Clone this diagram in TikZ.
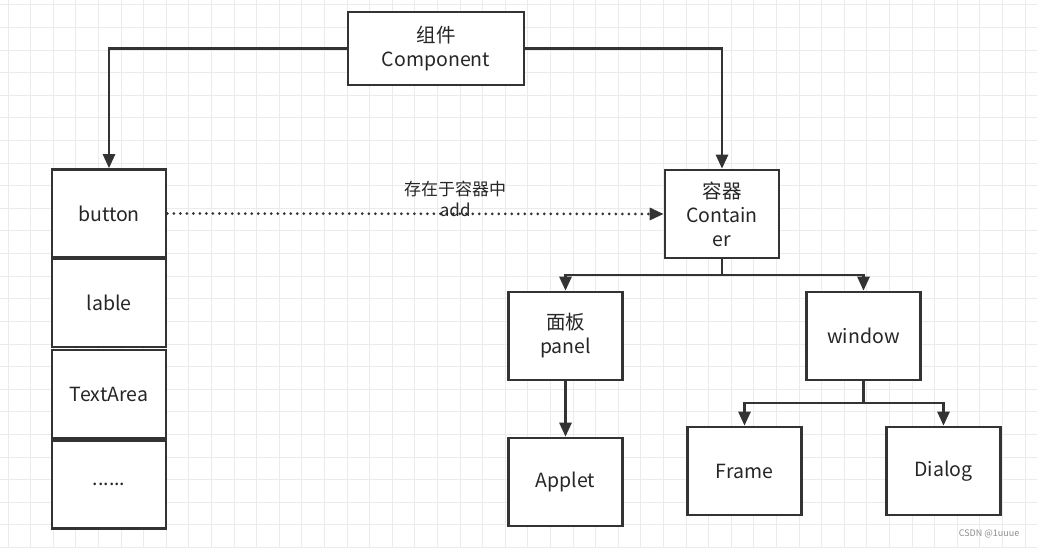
\documentclass[tikz,border=0pt]{standalone}
\usepackage{fontspec}
\setmainfont{Noto Sans CJK SC}
\usetikzlibrary{positioning, arrows.meta}
\tikzset{
    box/.style={draw=black!80, line width=2.6pt, fill=white, minimum width=114pt, minimum height=88pt, align=center, font=\fontsize{19.5}{24}\selectfont, text=black!85},
    link/.style={draw=black!80, line width=2.6pt, -{Triangle[length=14pt,width=12pt]}},
}
\begin{document}
\begin{tikzpicture}[x=1pt, y=-1pt]
    \useasboundingbox (0,0) rectangle (1037,548);
    % grid
    \foreach \i in {0,...,46} \draw[black!8, line width=1pt] (\i*22.6+8,0) -- (\i*22.6+8,548);
    \foreach \j in {0,...,24} \draw[black!8, line width=1pt] (0,\j*22.6+5) -- (1037,\j*22.6+5);

    % nodes
    \node[box, minimum width=176pt, minimum height=73pt] (comp) at (436,48.5) {组件\\Component};
    \node[box] (button) at (109,213.5) {button};
    \node[box] (lable) at (109,303) {lable};
    \node[box] (text) at (109,394) {TextArea};
    \node[box] (dots) at (109,484.5) {......};
    \node[box] (cont) at (722,214) {容器\\Contain\\er};
    \node[box] (panel) at (565.5,336) {面板\\panel};
    \node[box] (window) at (863.5,336) {window};
    \node[box] (applet) at (565.5,482) {Applet};
    \node[box] (frame) at (744.5,471) {Frame};
    \node[box] (dialog) at (943.5,471) {Dialog};

    % edges
    \draw[link] (comp.west) -| (button.north);
    \draw[link] (comp.east) -| (cont.north);
    \coordinate (split1) at (722,275);
    \draw[draw=black!80, line width=2.6pt] (cont.south) -- (split1);
    \draw[link] (split1) -| (panel.north);
    \draw[link] (split1) -| (window.north);
    \draw[link] (panel.south) -- (applet.north);
    \coordinate (split2) at (863.5,403);
    \draw[draw=black!80, line width=2.6pt] (window.south) -- (split2);
    \draw[link] (split2) -| (frame.north);
    \draw[link] (split2) -| (dialog.north);
    \draw[link, line width=3pt, dash pattern=on 0pt off 6.5pt, line cap=round] (button.east) -- (cont.west)
        node[pos=0.58, align=center, font=\fontsize{17}{21}\selectfont, text=black!85, yshift=15pt] {存在于容器中\\add};

    \node[font=\fontsize{9}{10}\selectfont, text=black!45] (mark) at (989,534) {CSDN @1uuue};
\end{tikzpicture}
\end{document}
